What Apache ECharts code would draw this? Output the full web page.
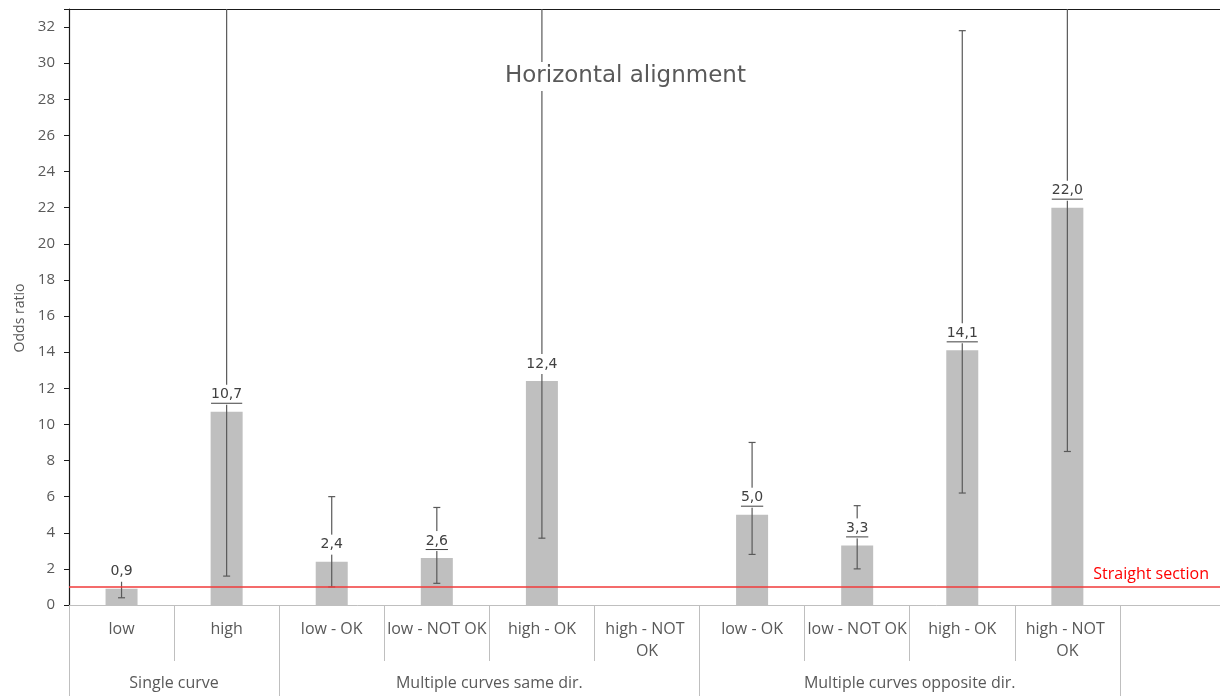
<!DOCTYPE html>
<html>
<head>
<meta charset="utf-8">
<title>Horizontal alignment</title>
<script src="https://cdn.jsdelivr.net/npm/echarts@6/dist/echarts.min.js"></script>
<style>
  html, body { margin: 0; padding: 0; background: #ffffff; overflow: hidden; width: 1220px; height: 696px; }
  /* the plot runs slightly past the right edge of the window */
  #chart { width: 1240px; height: 696px; }
</style>
</head>
<body>
<div id="chart"></div>
<script>
// Categories (the last slot is an empty spacer column)
const categories = ['low', 'high', 'low - OK', 'low - NOT OK', 'high - OK', 'high - NOT OK',
                    'low - OK', 'low - NOT OK', 'high - OK', 'high - NOT OK', ''];
// Group names and how many categories each group spans
const groupNames = ['Single curve', 'Multiple curves same dir.', 'Multiple curves opposite dir.'];
const groupSpans = [2, 4, 4];

// Odds ratios (null = no estimate)
const oddsRatio = [0.9, 10.7, 2.4, 2.6, 12.4, null, 5.0, 3.3, 14.1, 22.0, null];
// Confidence interval bounds
const ciLower = [0.4, 1.6, 1.0, 1.2, 3.7, null, 2.8, 2.0, 6.2, 8.5, null];
const ciUpper = [1.5, 45, 6.0, 5.4, 45, null, 9.0, 5.5, 31.8, 45, null];
// Which value labels are underlined
const labelUnderline = [false, true, false, true, false, false, true, true, true, true, false];

// Reference level: straight section
const referenceLevel = 1;
const referenceName = 'Straight section';

const yTicks = { min: 0, max: 33, interval: 2 };

const fmt = v => v.toFixed(1).replace('.', ',');

// Group boundaries and centres on the 0..N value scale
const groupEdges = [0];
groupSpans.forEach(s => groupEdges.push(groupEdges[groupEdges.length - 1] + s));
const groupCenters = groupSpans.map((s, i) => groupEdges[i] + s / 2);

const errorData = [];
const labelData = [];
categories.forEach((c, i) => {
  if (ciLower[i] != null && ciUpper[i] != null) errorData.push([i, ciLower[i], ciUpper[i]]);
  if (oddsRatio[i] != null) labelData.push([i, oddsRatio[i], labelUnderline[i] ? 1 : 0]);
});

const labelFont = '14px "DejaVu Sans"';
const measureCtx = document.createElement('canvas').getContext('2d');
measureCtx.font = labelFont;

const axisFont = 'Open Sans';

const chart = echarts.init(document.getElementById('chart'), null, { renderer: 'canvas' });

chart.setOption({
  animation: false,
  backgroundColor: '#ffffff',
  title: {
    text: 'Horizontal alignment',
    left: 497,
    top: 62,
    padding: [3, 8],
    backgroundColor: '#ffffff',
    textStyle: { fontFamily: 'DejaVu Sans', fontSize: 23, fontWeight: 'normal', color: '#595959' }
  },
  grid: { left: 69, top: 9, width: 1156, height: 596, containLabel: false },
  xAxis: [
    {
      type: 'category',
      data: categories,
      position: 'bottom',
      axisLine: { show: true, lineStyle: { color: '#bfbfbf', width: 1 } },
      axisTick: { show: true, alignWithLabel: false, interval: 0, length: 56, lineStyle: { color: '#bfbfbf', width: 1 } },
      axisLabel: {
        interval: 0, margin: 13, color: '#595959', fontFamily: axisFont, fontSize: 16,
        width: 102, overflow: 'break', lineHeight: 22
      }
    },
    {
      type: 'value',
      min: 0,
      max: categories.length,
      position: 'bottom',
      axisLine: { show: false },
      splitLine: { show: false },
      axisTick: { show: true, customValues: groupEdges, length: 91, lineStyle: { color: '#bfbfbf', width: 1 } },
      axisLabel: {
        customValues: groupCenters,
        margin: 70,
        color: '#595959', fontFamily: axisFont, fontSize: 16,
        formatter: v => {
          const k = groupCenters.indexOf(v);
          return k >= 0 ? groupNames[k] : '';
        }
      }
    },
    {
      type: 'category',
      data: categories,
      position: 'top',
      axisLine: { show: true, lineStyle: { color: '#1a1a1a', width: 1.2 } },
      axisTick: { show: false },
      axisLabel: { show: false }
    }
  ],
  yAxis: {
    type: 'value',
    min: yTicks.min,
    max: yTicks.max,
    interval: yTicks.interval,
    name: 'Odds ratio',
    nameLocation: 'middle',
    nameGap: 42,
    nameTextStyle: { color: '#595959', fontFamily: axisFont, fontSize: 14, padding: [0, 22, 0, 0] },
    axisLine: { show: true, lineStyle: { color: '#1a1a1a', width: 1.2 } },
    axisTick: { show: true, length: 5, lineStyle: { color: '#1a1a1a' } },
    axisLabel: {
      margin: 14, color: '#595959', fontFamily: axisFont, fontSize: 15,
      formatter: v => (v % yTicks.interval === 0 ? String(v) : '')
    },
    splitLine: { show: false }
  },
  series: [
    {
      type: 'bar',
      xAxisIndex: 0,
      data: oddsRatio,
      barWidth: 32,
      itemStyle: { color: '#bfbfbf' },
      z: 2,
      markLine: {
        silent: true,
        symbol: 'none',
        lineStyle: { color: '#f03a3a', width: 1.5, type: 'solid' },
        label: {
          show: true,
          position: 'insideEndTop',
          formatter: referenceName,
          color: '#ff0000',
          fontFamily: axisFont,
          fontSize: 16,
          padding: [0, 11, 0, 0]
        },
        data: [{ yAxis: referenceLevel }]
      }
    },
    {
      type: 'custom',
      xAxisIndex: 0,
      clip: true,
      z: 3,
      data: errorData,
      renderItem: (params, api) => {
        const x = api.value(0);
        const lo = api.coord([x, api.value(1)]);
        const hi = api.coord([x, api.value(2)]);
        const half = 3.5;
        const style = { stroke: '#595959', lineWidth: 1.2 };
        return {
          type: 'group',
          children: [
            { type: 'line', shape: { x1: lo[0], y1: lo[1], x2: hi[0], y2: hi[1] }, style },
            { type: 'line', shape: { x1: lo[0] - half, y1: lo[1], x2: lo[0] + half, y2: lo[1] }, style },
            { type: 'line', shape: { x1: hi[0] - half, y1: hi[1], x2: hi[0] + half, y2: hi[1] }, style }
          ]
        };
      }
    },
    {
      type: 'custom',
      xAxisIndex: 0,
      z: 4,
      data: labelData,
      renderItem: (params, api) => {
        const x = api.value(0);
        const v = api.value(1);
        const p = api.coord([x, v]);
        const txt = fmt(v);
        const w = measureCtx.measureText(txt).width;
        const cy = p[1] - 17;
        const children = [
          { type: 'rect', shape: { x: p[0] - w / 2 - 3, y: cy - 10, width: w + 6, height: 20 }, style: { fill: '#ffffff' } },
          {
            type: 'text',
            x: p[0], y: cy,
            style: { text: txt, font: labelFont, fill: '#404040', align: 'center', verticalAlign: 'middle' }
          }
        ];
        if (api.value(2)) {
          children.push({
            type: 'line',
            shape: { x1: p[0] - w / 2, y1: cy + 8.5, x2: p[0] + w / 2, y2: cy + 8.5 },
            style: { stroke: '#404040', lineWidth: 1 }
          });
        }
        return { type: 'group', children };
      }
    }
  ]
});
</script>
</body>
</html>
